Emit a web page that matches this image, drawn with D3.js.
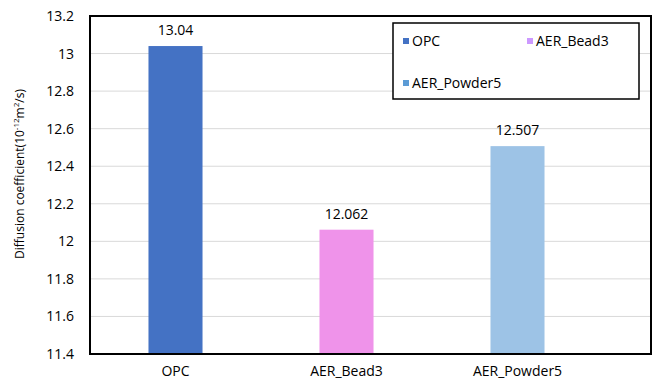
<!DOCTYPE html>
<html>
<head>
<meta charset="utf-8">
<script src="https://cdn.jsdelivr.net/npm/d3@7"></script>
<style>
  body { margin: 0; background: #fff; }
  text { font-family: "Open Sans", "Noto Sans", sans-serif; fill: #000; }
</style>
</head>
<body>
<svg id="chart" width="654" height="388"></svg>
<script>
const categories = ['OPC', 'AER_Bead3', 'AER_Powder5'];
const values = [13.04, 12.062, 12.507];
const valueLabels = ['13.04', '12.062', '12.507'];
const barColors = ['#4472C4', '#EF93EA', '#9DC3E6'];
const legendColors = ['#4472C4', '#CC99FF', '#5B9BD5'];
const yTicks = [11.4, 11.6, 11.8, 12, 12.2, 12.4, 12.6, 12.8, 13, 13.2];

const svg = d3.select('#chart');
const plot = { left: 90, top: 16, right: 651, bottom: 354 };

const y = d3.scaleLinear().domain([11.4, 13.2]).range([plot.bottom, plot.top]);
const x = d3.scaleBand().domain(categories)
  .range([plot.left, 603])
  .paddingInner(0.684)
  .paddingOuter(0.342);

// gridlines
svg.append('g')
  .selectAll('line')
  .data(yTicks)
  .join('line')
    .attr('x1', plot.left).attr('x2', plot.right)
    .attr('y1', d => y(d)).attr('y2', d => y(d))
    .attr('stroke', '#d9d9d9').attr('stroke-width', 1);

// bars
svg.append('g')
  .selectAll('rect')
  .data(values)
  .join('rect')
    .attr('x', (d, i) => x(categories[i]))
    .attr('width', x.bandwidth())
    .attr('y', d => y(d))
    .attr('height', d => plot.bottom - y(d))
    .attr('fill', (d, i) => barColors[i]);

// value labels
svg.append('g')
  .selectAll('text')
  .data(values)
  .join('text')
    .attr('x', (d, i) => x(categories[i]) + x.bandwidth() / 2)
    .attr('y', d => y(d) - 11)
    .attr('text-anchor', 'middle')
    .attr('font-size', 14)
    .text((d, i) => valueLabels[i]);

// plot frame
svg.append('rect')
  .attr('x', plot.left).attr('y', plot.top)
  .attr('width', plot.right - plot.left).attr('height', plot.bottom - plot.top)
  .attr('fill', 'none').attr('stroke', '#000').attr('stroke-width', 2);

// y axis
const yAxis = svg.append('g')
  .attr('transform', `translate(${plot.left},0)`)
  .call(d3.axisLeft(y).tickValues(yTicks).tickSize(0).tickPadding(16).tickFormat(d3.format('~g')));
yAxis.select('.domain').remove();
yAxis.selectAll('text').attr('font-size', 14).attr('font-family', '"Open Sans", sans-serif').attr('fill', '#000');

// x axis
const xAxis = svg.append('g')
  .attr('transform', `translate(0,${plot.bottom})`)
  .call(d3.axisBottom(x).tickSize(0).tickPadding(12));
xAxis.select('.domain').remove();
xAxis.selectAll('text').attr('font-size', 14).attr('font-family', '"Open Sans", sans-serif').attr('fill', '#000');

// y title
const title = svg.append('text')
  .attr('transform', 'translate(24,174) rotate(-90)')
  .attr('text-anchor', 'middle')
  .attr('font-size', 12);
title.append('tspan').text('Diffusion coefficient(10');
title.append('tspan').attr('dy', -5).attr('font-size', 8).text('-12');
title.append('tspan').attr('dy', 5).text('m');
title.append('tspan').attr('dy', -5).attr('font-size', 8).text('2');
title.append('tspan').attr('dy', 5).text('/s)');

// legend
const legend = svg.append('g');
legend.append('rect')
  .attr('x', 393).attr('y', 23).attr('width', 246).attr('height', 76)
  .attr('fill', '#fff').attr('stroke', '#000').attr('stroke-width', 1.5);
const legendPos = [[403, 41], [527, 41], [403, 83]];
const items = legend.selectAll('g.item')
  .data(categories)
  .join('g')
    .attr('class', 'item')
    .attr('transform', (d, i) => `translate(${legendPos[i][0]},${legendPos[i][1]})`);
items.append('rect')
  .attr('x', 0).attr('y', -3).attr('width', 6).attr('height', 6)
  .attr('fill', (d, i) => legendColors[i]);
items.append('text')
  .attr('x', 9).attr('y', 0).attr('dy', '0.35em')
  .attr('font-size', 14)
  .text(d => d);
</script>
</body>
</html>
